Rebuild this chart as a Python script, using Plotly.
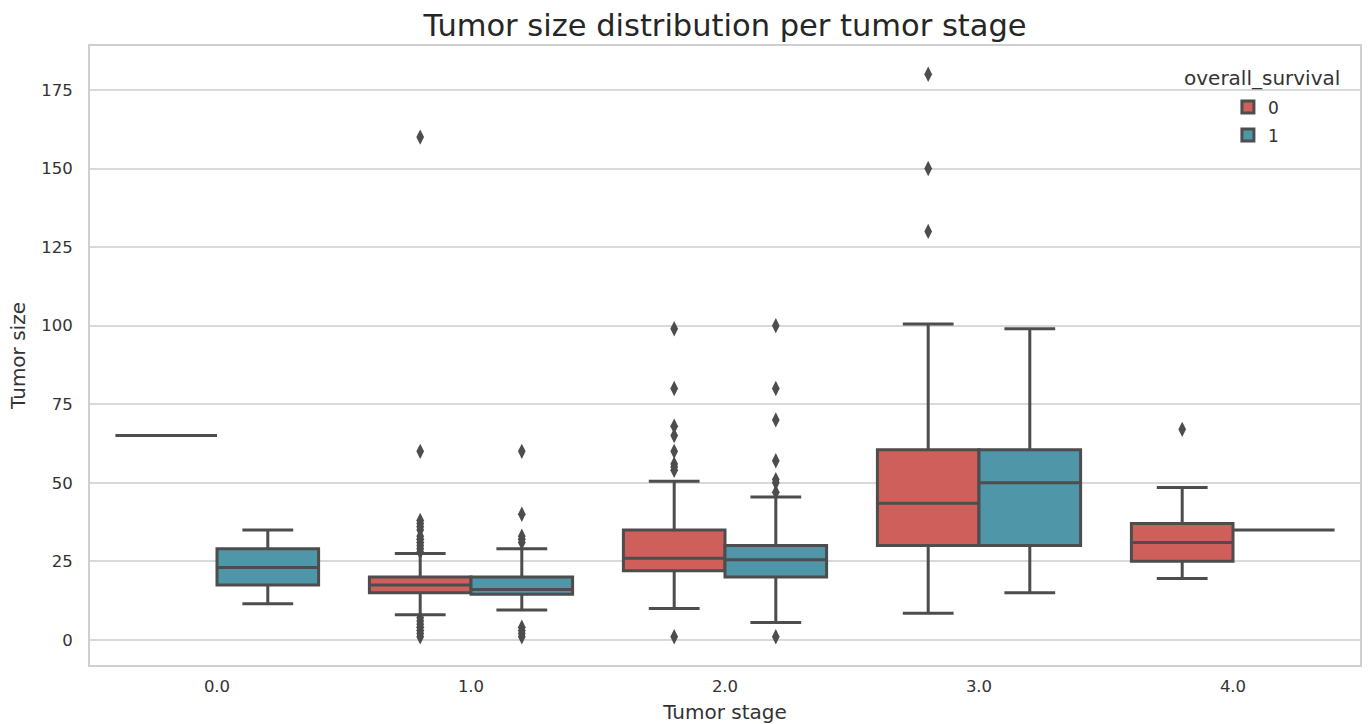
import plotly.graph_objects as go

# ---- data ----
stages = [0.0, 1.0, 2.0, 3.0, 4.0]
stage_labels = ["0.0", "1.0", "2.0", "3.0", "4.0"]
survival_groups = ["0", "1"]
y_ticks = [0, 25, 50, 75, 100, 125, 150, 175]

# survival 0 box stats per stage
s0_lower = [65, 8, 10, 8.5, 19.5]
s0_q1 = [65, 15, 22, 30, 25]
s0_median = [65, 17.5, 26, 43.5, 31]
s0_q3 = [65, 20, 35, 60.5, 37]
s0_upper = [65, 27.5, 50.5, 100.5, 48.5]

# survival 1 box stats per stage
s1_lower = [11.5, 9.5, 5.5, 15, 35]
s1_q1 = [17.5, 14.5, 20, 30, 35]
s1_median = [23, 16, 25.5, 50, 35]
s1_q3 = [29, 20, 30, 60.5, 35]
s1_upper = [35, 29, 45.5, 99, 35]

# outliers (stage, value)
s0_out_stage = [1.0] * 19 + [2.0] * 9 + [3.0] * 3 + [4.0] * 1
s0_out_value = [160, 60, 38, 37, 36, 35, 33, 32, 31, 30, 29, 28,
                7, 6, 5, 4, 3, 2, 1,
                99, 80, 68, 65, 60, 56, 55, 54, 1,
                180, 150, 130,
                67]

s1_out_stage = [1.0] * 9 + [2.0] * 8
s1_out_value = [60, 40, 33, 32, 31, 4, 3, 2, 1,
                100, 80, 70, 57, 51, 50, 47, 1]

RED = "#CF5F5A"
BLUE = "#4F97A8"
EDGE = "#4D4D4D"
TXT = "#333333"
HALF = 0.2  # hue offset from category centre

fig = go.Figure()

def add_group(name, color, offset, lo, q1, med, q3, up, out_st, out_val):
    fig.add_trace(go.Box(
        name=name,
        x=[s + offset for s in stages],
        lowerfence=lo, q1=q1, median=med, q3=q3, upperfence=up,
        width=0.4,
        fillcolor=color,
        line=dict(color=EDGE, width=3),
        whiskerwidth=0.5,
        boxpoints=False,
        hoverinfo="skip",
        legendgroup=name,
    ))
    fig.add_trace(go.Scatter(
        x=[s + offset for s in out_st],
        y=out_val,
        mode="markers",
        marker=dict(symbol="diamond-tall", size=11, color=EDGE),
        showlegend=False,
        legendgroup=name,
        hoverinfo="skip",
    ))

add_group(survival_groups[0], RED, -HALF, s0_lower, s0_q1, s0_median, s0_q3, s0_upper,
          s0_out_stage, s0_out_value)
add_group(survival_groups[1], BLUE, HALF, s1_lower, s1_q1, s1_median, s1_q3, s1_upper,
          s1_out_stage, s1_out_value)

FONT = "DejaVu Sans"
fig.update_layout(
    width=1370, height=724,
    margin=dict(l=90, r=10, t=46, b=59, autoexpand=False),
    paper_bgcolor="white",
    plot_bgcolor="white",
    boxmode="overlay",
    font=dict(family=FONT, color=TXT, size=16),
    title=dict(text="Tumor size distribution per tumor stage",
               xref="paper", x=0.5, xanchor="center",
               y=0.965, yanchor="middle",
               font=dict(size=30.5, color="#262626", family=FONT)),
    legend=dict(
        x=0.896, xanchor="left", y=0.93, yanchor="top",
        bgcolor="rgba(255,255,255,0)",
        font=dict(size=17, color=TXT),
        tracegroupgap=3,
    ),
    showlegend=True,
    annotations=[dict(
        text="overall_survival", xref="paper", yref="paper",
        x=0.986, xanchor="right", y=0.948, yanchor="middle",
        showarrow=False, font=dict(size=20, color=TXT, family=FONT),
    )],
)
fig.update_xaxes(
    range=[-0.5, 4.5],
    tickvals=stages, ticktext=stage_labels,
    showgrid=False, zeroline=False,
    showline=True, mirror=True, linecolor="#cfcfcf", linewidth=2,
    ticks="", tickfont=dict(size=16.5, color=TXT),
    ticklabelstandoff=5,
    title=dict(text="Tumor stage", font=dict(size=20, color=TXT), standoff=10),
)
fig.update_yaxes(
    range=[-8, 189],
    tickvals=y_ticks,
    showgrid=True, gridcolor="#d9d9d9", gridwidth=1.5,
    zeroline=False,
    showline=True, mirror=True, linecolor="#cfcfcf", linewidth=2,
    ticks="", tickfont=dict(size=16.5, color=TXT),
    ticklabelstandoff=12,
    title=dict(text="Tumor size", font=dict(size=20, color=TXT), standoff=10),
)

fig.write_html("out.html")
